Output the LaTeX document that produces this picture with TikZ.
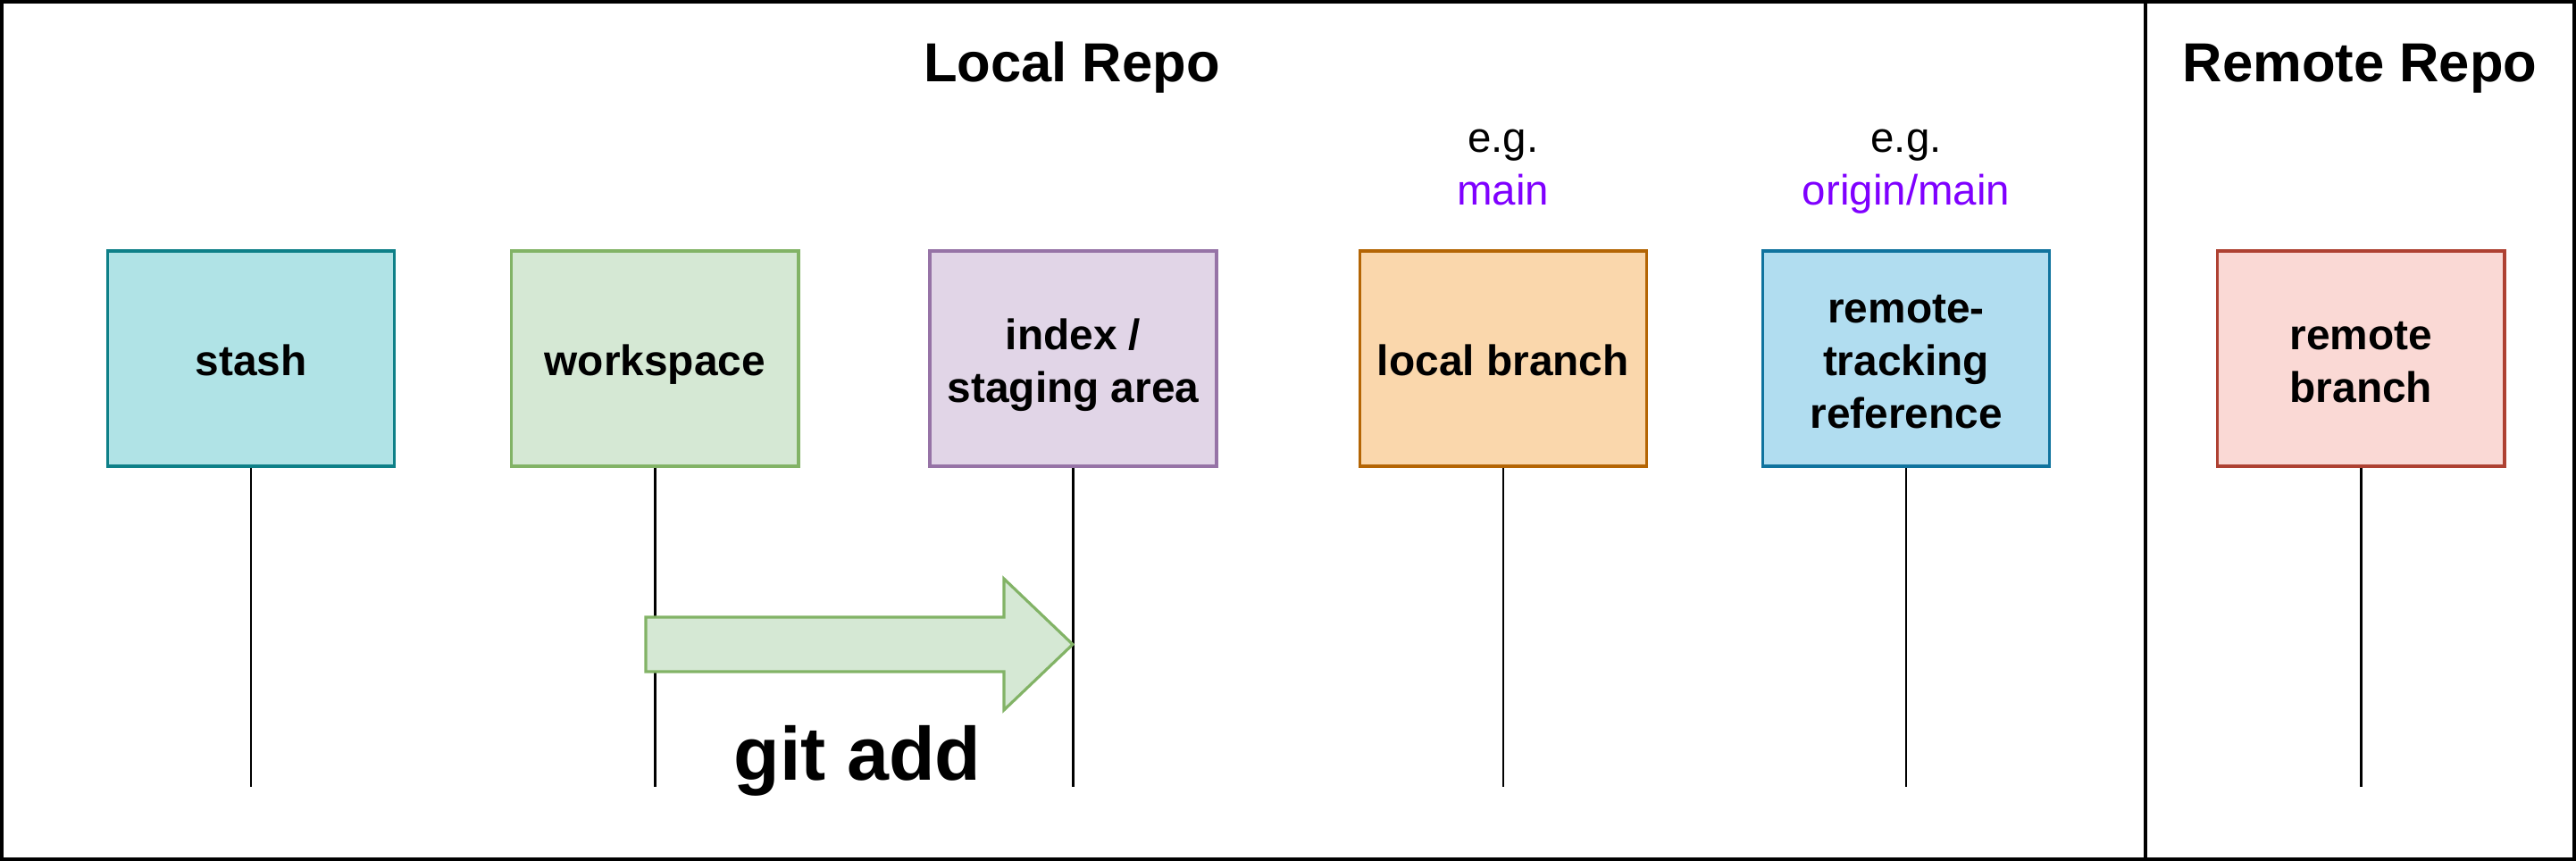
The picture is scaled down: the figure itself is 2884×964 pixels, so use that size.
\documentclass[tikz,border=0pt]{standalone}
\usepackage{fontspec}
\setmainfont{Liberation Sans}
\usepackage{tikz}
\usetikzlibrary{positioning}
\definecolor{stashFill}{HTML}{B0E3E6}
\definecolor{stashLine}{HTML}{0E8088}
\definecolor{workFill}{HTML}{D5E8D4}
\definecolor{workLine}{HTML}{82B366}
\definecolor{indexFill}{HTML}{E1D5E7}
\definecolor{indexLine}{HTML}{9673A6}
\definecolor{localFill}{HTML}{FAD7AC}
\definecolor{localLine}{HTML}{B46504}
\definecolor{trackFill}{HTML}{B1DDF0}
\definecolor{trackLine}{HTML}{10739E}
\definecolor{remoteFill}{HTML}{FAD9D5}
\definecolor{remoteLine}{HTML}{AE4132}
\definecolor{egPurple}{HTML}{7F00FF}
\tikzset{
    styleBox/.style={draw, line width=0.95pt, minimum width=3.21cm, minimum height=2.41cm, align=center, text height=13pt, text depth=2pt, font=\bfseries\fontsize{13.6}{16.8}\selectfont}, % the coloured boxes
    styleTwo/.style={text height=29.8pt}, % two lines of text
    styleThree/.style={text height=46.6pt}, % three lines of text
    styleLife/.style={line width=0.7pt}, % the vertical lines below the boxes
    styleTitle/.style={anchor=base, inner sep=0pt, font=\bfseries\fontsize{17.5}{21}\selectfont},
    styleEg/.style={inner sep=0pt, align=center, text depth=0pt, font=\fontsize{13.5}{16.8}\selectfont},
}

\begin{document}
\begin{tikzpicture}[
                                x=0.01cm, y=-0.01cm,
                                styleFrame/.style={line width=1.14pt},
                            ]
                            \useasboundingbox (0,0) rectangle (2884,964);
                            \draw[styleFrame] (2,2) rectangle (2882,962);
                            \draw[line width=0.95pt] (2402,0) -- (2402,964);

                            \node[styleTitle] (localTitle) at (1200,92) {Local Repo};
                            \node[styleTitle] (remoteTitle) at (2642,92) {Remote Repo};

                            \node[styleBox, fill=stashFill, draw=stashLine] (stash) at (281,401.5) {stash};
                            \node[styleBox, fill=workFill, draw=workLine, right of=stash, node distance=4.52cm] (workspace) {workspace};
                            \node[styleBox, styleTwo, fill=indexFill, draw=indexLine, right of=workspace, node distance=4.68cm] (index) {index /\\staging area};
                            \node[styleBox, fill=localFill, draw=localLine, right of=index, node distance=4.81cm] (local) {local branch};
                            \node[styleBox, styleThree, fill=trackFill, draw=trackLine, right of=local, node distance=4.51cm] (track) {remote-\\tracking\\reference};
                            \node[styleBox, styleTwo, fill=remoteFill, draw=remoteLine, right of=track, node distance=5.09cm] (remote) {remote\\branch};

                            \node[styleEg, above=0.49cm of local] (localEg) {e.g.\\\textcolor{egPurple}{main}};
                            \node[styleEg, above=0.49cm of track] (trackEg) {e.g.\\\textcolor{egPurple}{origin/main}};

                            \coordinate (stashEnd) at (stash |- 0,881);
                            \coordinate (workspaceEnd) at (workspace |- 0,881);
                            \coordinate (indexEnd) at (index |- 0,881);
                            \coordinate (localEnd) at (local |- 0,881);
                            \coordinate (trackEnd) at (track |- 0,881);
                            \coordinate (remoteEnd) at (remote |- 0,881);
                            \draw[styleLife]
                            (stash) -- (stashEnd)
                            (workspace) -- (workspaceEnd)
                            (index) -- (indexEnd)
                            (local) -- (localEnd)
                            (track) -- (trackEnd)
                            (remote) -- (remoteEnd);

                            % git add arrow
                            \draw[fill=workFill, draw=workLine, line width=0.9pt]
                            (723,691) -- (1124,691) -- (1124,648) -- (1201,721.5) -- (1124,795) -- (1124,752) -- (723,752) -- cycle;
                            \node[styleTitle, font=\bfseries\fontsize{24}{28}\selectfont] (gitAdd) at (960,873) {git add};
                        \end{tikzpicture}
\end{document}
